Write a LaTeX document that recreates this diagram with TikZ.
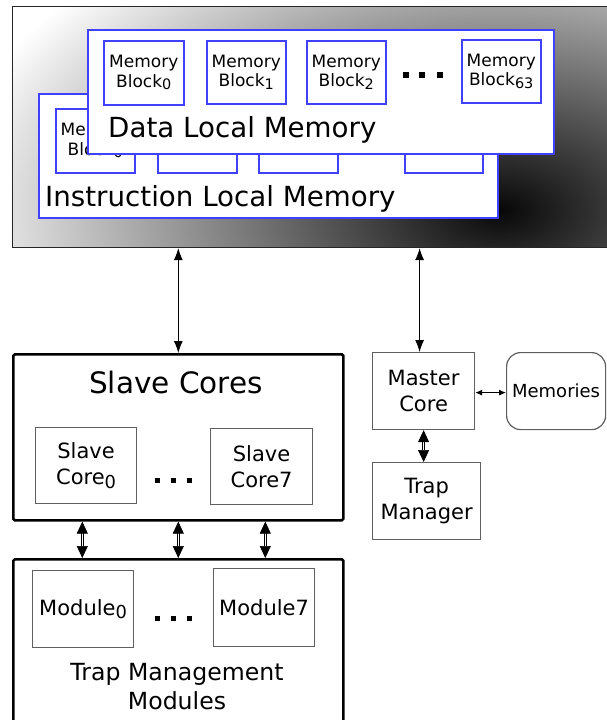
\documentclass[tikz,border=0pt]{standalone}
\usepackage{fontspec}
\setmainfont{DejaVu Sans}
\usepackage{graphicx}
\usetikzlibrary{arrows.meta}
\definecolor{memblue}{RGB}{64,64,255}
\definecolor{boxgray}{RGB}{95,95,95}
\newcommand{\lowidx}[1]{\raisebox{-0.3ex}{\scalebox{0.85}{#1}}}
\begin{document}
\begin{tikzpicture}[x=1pt,y=-1pt,
  bluebox/.style={draw=memblue, line width=1.5pt, fill=white, inner sep=0pt, anchor=north west},
  memblk/.style={bluebox, align=center, font=\fontsize{17}{19.5}\selectfont},
  graybox/.style={draw=boxgray, line width=1.2pt, fill=white, inner sep=0pt, anchor=north west, align=center, font=\fontsize{21}{26}\selectfont},
  bigbox/.style={draw=black, line width=2.6pt, fill=white, inner sep=0pt, anchor=north west, rounded corners=1.5pt},
  thinarr/.style={{Latex[length=12pt,width=9pt]}-{Latex[length=12pt,width=9pt]}, line width=0.9pt},
  smallarr/.style={{Latex[length=7pt,width=6pt]}-{Latex[length=7pt,width=6pt]}, line width=0.9pt},
  fatarr/.style={{Triangle[length=12pt,width=11pt]}-{Triangle[length=12pt,width=11pt]}, line width=0.7pt, double distance=1.4pt, double=white},
  dotsq/.style={fill=black}
]
\useasboundingbox (0,0) rectangle (606,720);
% gradient background of shared memory
\begin{scope}
  \clip (12,6) rectangle (620,247);
  \shade[inner color=black!97, outer color=white] (500,210) ellipse [x radius=560pt, y radius=330pt];
\end{scope}
\node[draw=black!85, line width=1.1pt, inner sep=0pt, minimum width=608pt, minimum height=241pt, anchor=north west] (shared) at (12,6) {};

% instruction local memory
\node[bluebox, minimum width=459pt, minimum height=124pt] (ilm) at (38,93) {};
\node[memblk, minimum width=79pt, minimum height=64pt] (i0) at (55,108) {Memory\\Block\lowidx{0}};
\node[memblk, minimum width=79pt, minimum height=64pt] (i1) at (157,108) {};
\node[memblk, minimum width=79pt, minimum height=64pt] (i2) at (258,108) {};
\node[memblk, minimum width=78pt, minimum height=64pt] (i3) at (404,108) {};
\node[anchor=base west, inner sep=0pt, font=\fontsize{27.7}{30}\selectfont] (ilmt) at (45,206) {Instruction Local Memory};

% data local memory
\node[bluebox, minimum width=466pt, minimum height=124pt] (dlm) at (87,29) {};
\node[memblk, minimum width=80pt, minimum height=64pt] (d0) at (103,40) {Memory\\Block\lowidx{0}};
\node[memblk, minimum width=79pt, minimum height=63pt] (d1) at (206,40) {Memory\\Block\lowidx{1}};
\node[memblk, minimum width=79pt, minimum height=63pt] (d2) at (306,40) {Memory\\Block\lowidx{2}};
\node[memblk, minimum width=79pt, minimum height=63pt] (d63) at (461,39) {Memory\\Block\lowidx{63}};
\fill[dotsq] (403,72) rectangle (408.5,78);
\fill[dotsq] (419,72) rectangle (424.5,78);
\fill[dotsq] (437,72) rectangle (442.5,78);
\node[anchor=base west, inner sep=0pt, font=\fontsize{27.7}{30}\selectfont] (dlmt) at (108,137) {Data Local Memory};

% slave cores
\node[bigbox, minimum width=330pt, minimum height=166pt] (sc) at (12,353) {};
\node[anchor=base, inner sep=0pt, font=\fontsize{29.5}{32}\selectfont] (sct) at (176,393) {Slave Cores};
\node[graybox, minimum width=101pt, minimum height=76pt] (sc0) at (35,427) {Slave\\Core\lowidx{0}};
\node[graybox, minimum width=102pt, minimum height=76pt] (sc7) at (210,428) {Slave\\Core7};
\fill[dotsq] (155,477.5) rectangle (160,482.5);
\fill[dotsq] (171,477.5) rectangle (176,482.5);
\fill[dotsq] (187,477.5) rectangle (192,482.5);

% trap management modules
\node[bigbox, minimum width=330pt, minimum height=180pt] (tmm) at (12,558) {};
\node[graybox, minimum width=101pt, minimum height=77pt] (m0) at (32,570) {Module\lowidx{0}};
\node[graybox, minimum width=101pt, minimum height=78pt] (m7) at (213,568) {Module7};
\fill[dotsq] (155,615.5) rectangle (160,620.5);
\fill[dotsq] (171,615.5) rectangle (176,620.5);
\fill[dotsq] (187,615.5) rectangle (192,620.5);
\node[anchor=base, inner sep=0pt, font=\fontsize{23.6}{29}\selectfont] (tmmt1) at (177,680) {Trap Management};
\node[anchor=base, inner sep=0pt, font=\fontsize{23.6}{29}\selectfont] (tmmt2) at (177,709) {Modules};

% master side
\node[graybox, minimum width=102pt, minimum height=77pt] (mc) at (372,352) {Master\\Core};
\node[graybox, minimum width=99pt, minimum height=77pt, rounded corners=14pt, font=\fontsize{18}{22}\selectfont] (mem) at (506,352) {Memories};
\node[graybox, minimum width=108pt, minimum height=77pt] (tm) at (372,462) {Trap\\Manager};

% connectors
\draw[thinarr] (shared.south -| sc.north) -- (sc.north);
\draw[thinarr] ([xshift=-4pt]mc.north |- shared.south) -- ([xshift=-4pt]mc.north);
\draw[smallarr] ([yshift=-1.5pt]mc.east) -- ([yshift=-1.5pt]mc.east -| mem.west);
\draw[fatarr] (mc.south) -- (mc.south |- tm.north);
\draw[fatarr] ([xshift=-96pt]sc.south) -- ([xshift=-96pt]tmm.north);
\draw[fatarr] (sc.south) -- (tmm.north);
\draw[fatarr] ([xshift=87pt]sc.south) -- ([xshift=87pt]tmm.north);
\end{tikzpicture}
\end{document}
